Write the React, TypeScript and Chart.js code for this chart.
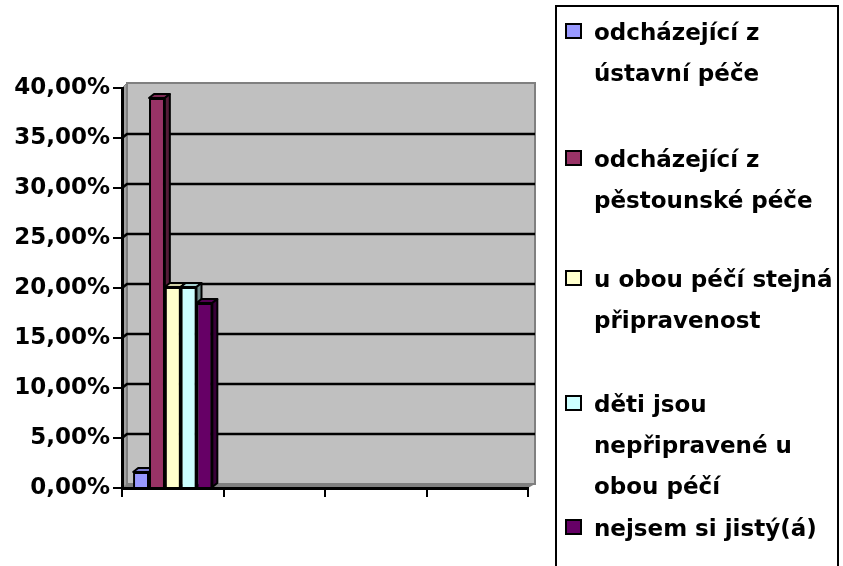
import React, { useEffect, useRef } from "react";
import { Chart, registerables } from "chart.js";

Chart.register(...registerables);

// ---- data ----
const categories = ["", "", "", ""];
const seriesLabels = [
  "odcházející z ústavní péče",
  "odcházející z pěstounské péče",
  "u obou péčí stejná připravenost",
  "děti jsou nepřipravené u obou péčí",
  "nejsem si jistý(á)",
];
const ustavniValues = [1.6, null, null, null];
const pestounskeValues = [39.0, null, null, null];
const stejnaValues = [20.1, null, null, null];
const nepripraveneValues = [20.1, null, null, null];
const nejsemValues = [18.5, null, null, null];
const seriesColors = ["#9999FF", "#993366", "#FFFFCC", "#CCFFFF", "#660066"];
const yMin = 0;
const yMax = 40;
const yStep = 5;

const FONT = "'DejaVu Sans', sans-serif";

function shade(hex: string, f: number) {
  const n = parseInt(hex.slice(1), 16);
  const r = Math.round(((n >> 16) & 255) * f);
  const g = Math.round(((n >> 8) & 255) * f);
  const b = Math.round((n & 255) * f);
  return `rgb(${r},${g},${b})`;
}

const DX = 5;
const DY = 4;

function poly(ctx: CanvasRenderingContext2D, pts: number[][]) {
  ctx.beginPath();
  ctx.moveTo(pts[0][0], pts[0][1]);
  for (let i = 1; i < pts.length; i++) ctx.lineTo(pts[i][0], pts[i][1]);
  ctx.closePath();
}

const wallPlugin = {
  id: "wall3d",
  beforeDraw(chart: any) {
    const { ctx, chartArea } = chart;
    const { left, right, top, bottom } = chartArea;
    const y = chart.scales.y;
    ctx.save();
    // floor
    ctx.fillStyle = "#808080";
    poly(ctx, [
      [left, bottom],
      [left + DX, bottom - DY],
      [right + DX + 2, bottom - DY],
      [right, bottom],
    ]);
    ctx.fill();
    // side wall
    ctx.fillStyle = "#A0A0A0";
    poly(ctx, [
      [left, top],
      [left + DX, top - DY - 1],
      [left + DX, bottom - DY],
      [left, bottom],
    ]);
    ctx.fill();
    ctx.strokeStyle = "#808080";
    ctx.lineWidth = 1;
    ctx.stroke();
    // back wall
    ctx.fillStyle = "#C0C0C0";
    ctx.fillRect(left + DX, top - DY - 1, right + 2 - left, bottom - top + 1);
    ctx.strokeStyle = "#808080";
    ctx.lineWidth = 2;
    ctx.strokeRect(left + DX, top - DY - 1, right + 2 - left, bottom - top + 1);
    // gridlines
    ctx.strokeStyle = "#000";
    ctx.lineWidth = 2.5;
    for (const t of y.ticks) {
      if (t.value === yMin || t.value === yMax) continue;
      const py = y.getPixelForValue(t.value);
      ctx.beginPath();
      ctx.moveTo(left, py);
      ctx.lineTo(left + DX, py - DY);
      ctx.lineTo(right + DX + 2, py - DY);
      ctx.stroke();
    }
    ctx.restore();
  },
};

const bar3dPlugin = {
  id: "bar3d",
  afterDatasetsDraw(chart: any) {
    const { ctx } = chart;
    const items: any[] = [];
    chart.data.datasets.forEach((ds: any, di: number) => {
      const meta = chart.getDatasetMeta(di);
      meta.data.forEach((el: any, i: number) => {
        if (ds.data[i] == null) return;
        items.push({ el, color: seriesColors[di] });
      });
    });
    items.sort((a, b) => a.el.x - b.el.x);
    ctx.save();
    for (const { el, color } of items) {
      el.draw(ctx);
      const { x, y, base, width } = el.getProps(["x", "y", "base", "width"], true);
      const l = x - width / 2;
      const r = x + width / 2;
      ctx.lineWidth = 2;
      ctx.strokeStyle = "#000";
      ctx.lineJoin = "round";
      // top face
      poly(ctx, [
        [l, y],
        [r, y],
        [r + DX, y - DY],
        [l + DX, y - DY],
      ]);
      ctx.fillStyle = shade(color, 0.82);
      ctx.fill();
      ctx.stroke();
      // side face
      poly(ctx, [
        [r, y],
        [r + DX, y - DY],
        [r + DX, base - DY],
        [r, base],
      ]);
      ctx.fillStyle = shade(color, 0.55);
      ctx.fill();
      ctx.stroke();
    }
    ctx.restore();
  },
};

const legendTops = [11.5, 138.5, 258.5, 383.5, 507.5];

export default function App() {
  const canvasRef = useRef<HTMLCanvasElement | null>(null);

  useEffect(() => {
    const canvas = canvasRef.current;
    if (!canvas) return;
    const allValues = [ustavniValues, pestounskeValues, stejnaValues, nepripraveneValues, nejsemValues];
    const chart = new Chart(canvas, {
      type: "bar",
      data: {
        labels: categories,
        datasets: allValues.map((vals, i) => ({
          label: seriesLabels[i],
          data: vals,
          backgroundColor: seriesColors[i],
          borderColor: "#000",
          borderWidth: 2,
          categoryPercentage: 0.78,
          barPercentage: 1.0,
        })),
      },
      options: {
        responsive: false,
        animation: false,
        maintainAspectRatio: false,
        layout: { padding: { top: 88, right: 315, left: 0, bottom: 0 } },
        plugins: {
          legend: { display: false },
          tooltip: { enabled: false },
        },
        scales: {
          x: {
            grid: {
              display: true,
              offset: true,
              drawOnChartArea: false,
              drawTicks: true,
              tickLength: 9,
              color: "#000",
              lineWidth: 2,
            },
            border: { display: true, color: "#000", width: 3 },
            ticks: { display: false },
            afterFit: (s: any) => {
              s.height = 78;
            },
          },
          y: {
            min: yMin,
            max: yMax,
            grid: {
              display: true,
              drawOnChartArea: false,
              drawTicks: true,
              tickLength: 9,
              color: "#000",
              lineWidth: 2,
            },
            border: { display: true, color: "#000", width: 3 },
            ticks: {
              stepSize: yStep,
              padding: 3,
              color: "#000",
              font: { family: FONT, size: 23, weight: "bold" },
              callback: (v: any) => Number(v).toFixed(2).replace(".", ",") + "%",
            },
            afterFit: (s: any) => {
              s.width = 122;
            },
          },
        },
      },
      plugins: [wallPlugin, bar3dPlugin],
    } as any);
    return () => chart.destroy();
  }, []);

  return (
    <div style={{ position: "absolute", left: 0, top: 0, width: 843, height: 566, overflow: "hidden", background: "#fff" }}>
      <canvas ref={canvasRef} width={843} height={566} style={{ position: "absolute", left: 0, top: 0 }} />
      <div
        style={{
          position: "absolute",
          left: 555,
          top: 5,
          width: 284,
          height: 580,
          border: "2px solid #000",
          boxSizing: "border-box",
          background: "#fff",
        }}
      />
      {seriesLabels.map((label, i) => (
        <React.Fragment key={i}>
          <div
            style={{
              position: "absolute",
              left: 565,
              top: legendTops[i] + 11.5,
              width: 17,
              height: 16,
              border: "2px solid #000",
              boxSizing: "border-box",
              background: seriesColors[i],
            }}
          />
          <div
            style={{
              position: "absolute",
              left: 594,
              top: legendTops[i],
              width: 246,
              fontFamily: FONT,
              fontWeight: "bold",
              fontSize: 23,
              lineHeight: "41px",
              color: "#000",
            }}
          >
            {label}
          </div>
        </React.Fragment>
      ))}
    </div>
  );
}
